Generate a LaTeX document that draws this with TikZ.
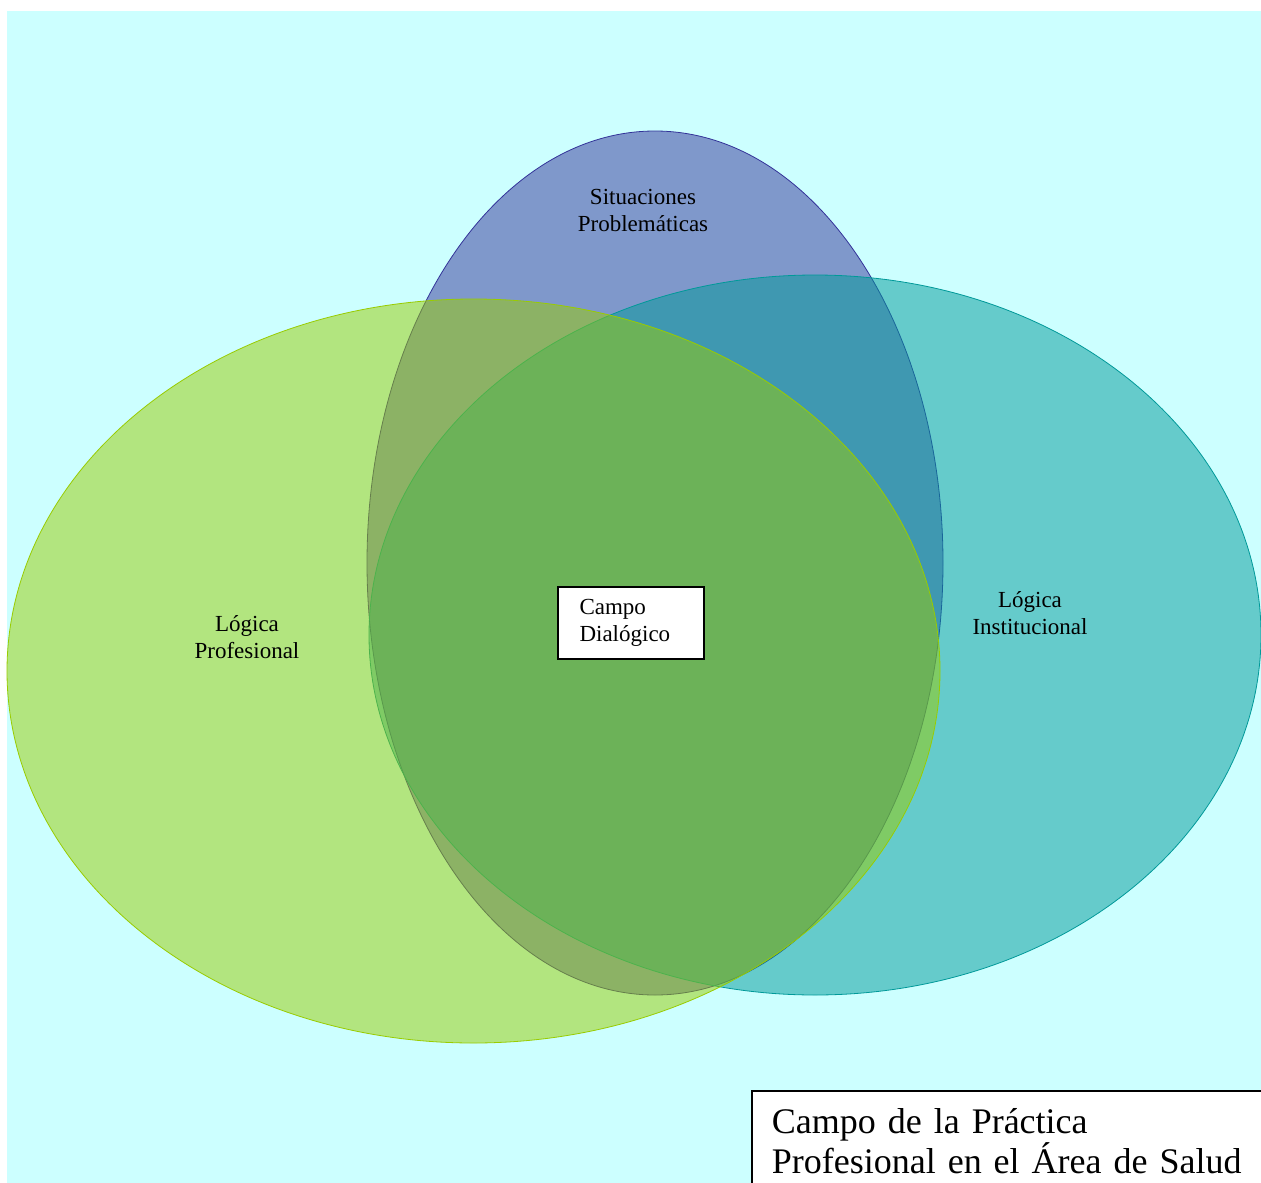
\documentclass[tikz,border=0pt]{standalone}
\usepackage{fontspec}
\setmainfont{Liberation Serif}

\definecolor{ccfondo}{RGB}{204,255,255}
\definecolor{ccazul}{RGB}{51,51,153}
\definecolor{ccteal}{RGB}{0,153,153}
\definecolor{ccverde}{RGB}{153,204,0}

\begin{document}
\begin{tikzpicture}[x=1pt, y=-1pt,
  conjunto/.style={line width=0.8pt, fill opacity=0.5},
  etiqueta/.style={align=center, inner sep=0pt, font=\fontsize{23}{27}\selectfont},
  recuadro/.style={draw=black, fill=white, line width=1.6pt, align=left}]

  \useasboundingbox (0,0) rectangle (1261,1183);

  % Fondo
  \fill[ccfondo] (7,11) rectangle (1261,1183);

  % Situaciones problematicas
  \draw[conjunto, draw=ccazul, fill=ccazul] (655,563) circle [x radius=288pt, y radius=432pt];

  % Logica institucional
  \draw[conjunto, draw=ccteal, fill=ccteal] (815,635) circle [x radius=446pt, y radius=360pt];

  % Logica profesional
  \draw[conjunto, draw=ccverde, fill=ccverde] (473.5,671) circle [x radius=466.5pt, y radius=372pt];

  % Etiquetas
  \draw (643,210) node[etiqueta] (situaciones) {Situaciones\\Problemáticas};
  \draw (247,637) node[etiqueta] (profesional) {Lógica\\Profesional};
  \draw (1030,613) node[etiqueta] (institucional) {Lógica\\Institucional};

  % Campo dialogico
  \draw (631,623) node[recuadro, minimum width=146pt, minimum height=72pt, text width=103pt,
    inner xsep=21pt, font=\fontsize{23}{27}\selectfont] (dialogico) {Campo\\Dialógico};

  % Titulo
  \draw (751,1090) node[recuadro, anchor=north west, text width=490pt, inner xsep=20pt,
    inner ysep=18pt, font=\fontsize{36}{40}\selectfont] (titulo)
    {Campo de la Práctica\\Profesional en el Área de Salud};

\end{tikzpicture}
\end{document}
